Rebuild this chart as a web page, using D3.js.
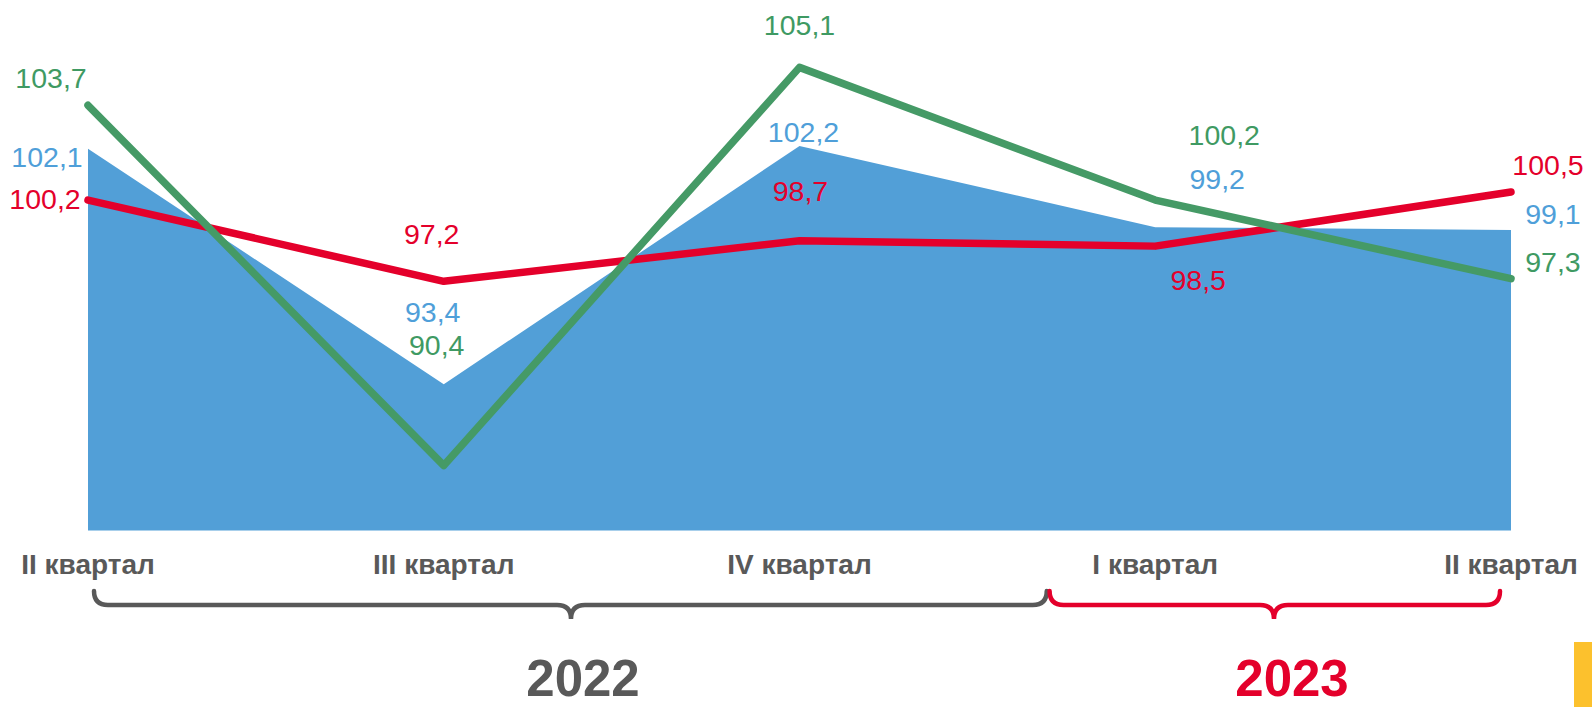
<!DOCTYPE html>
<html><head><meta charset="utf-8">
<script src="https://cdn.jsdelivr.net/npm/d3@7"></script>
<style>
html,body{margin:0;padding:0;background:#fff;}
svg{display:block;font-family:"Liberation Sans",Arial,sans-serif;}
</style></head>
<body>
<svg id="c" width="1592" height="707"></svg>
<script>
const categories = ["II квартал","III квартал","IV квартал","I квартал","II квартал"];
const blueValues  = [102.1, 93.4, 102.2, 99.2, 99.1];
const redValues   = [100.2, 97.2, 98.7, 98.5, 100.5];
const greenValues = [103.7, 90.4, 105.1, 100.2, 97.3];
const years = ["2022","2023"];
const yearSpans = [[0,3],[3,4]];

const fmt = v => d3.format(".1f")(v).replace(".", ",");

// label placement offsets (dx, dy from data point), text-anchor middle
const blueOff  = [[-41,18],[-11,-62],[4,-4],[62,-38],[42,-6]];
const redOff   = [[-43,8.5],[-12,-37],[1,-40],[43,44],[37,-17]];
const greenOff = [[-37,-17.6],[-7,-111],[0,-32],[69,-55],[42,-7]];

const svg = d3.select("#c");
const x = d3.scalePoint().domain(d3.range(categories.length)).range([88, 1511]);
const y = d3.scaleLinear().domain([88, 106]).range([530.5, 43]);

const BLUE = "#529fd7", RED = "#e4002b", GREEN = "#459a66", GRAY = "#595959";

// area
svg.append("path")
  .datum(blueValues)
  .attr("fill", BLUE)
  .attr("d", d3.area().x((d,i)=>x(i)).y0(y(88)).y1(d=>y(d)));

const line = d3.line().x((d,i)=>x(i)).y(d=>y(d));
svg.append("path").datum(redValues).attr("fill","none").attr("stroke",RED)
  .attr("stroke-width",7.5).attr("stroke-linecap","round").attr("stroke-linejoin","round")
  .attr("d", line);
svg.append("path").datum(greenValues).attr("fill","none").attr("stroke",GREEN)
  .attr("stroke-width",7.5).attr("stroke-linecap","round").attr("stroke-linejoin","round")
  .attr("d", line);

function labels(vals, offs, color){
  svg.append("g").selectAll("text").data(vals).join("text")
    .attr("x",(d,i)=>x(i)+offs[i][0])
    .attr("y",(d,i)=>y(d)+offs[i][1])
    .attr("text-anchor","middle")
    .attr("font-size",28.5)
    .attr("fill",color)
    .text(d=>fmt(d));
}
labels(blueValues, blueOff, "#4f9fd9");
labels(redValues, redOff, RED);
labels(greenValues, greenOff, "#3f9a63");

// category axis labels
svg.append("g").selectAll("text").data(categories).join("text")
  .attr("x",(d,i)=>x(i)).attr("y",574)
  .attr("text-anchor","middle").attr("font-size",28).attr("font-weight","bold")
  .attr("fill",GRAY).text(d=>d);

// braces
function brace(x1, x2, xm, color){
  const top = 591, mid = 605, tip = 619, r = 14;
  const p = d3.path();
  p.moveTo(x1, top);
  p.quadraticCurveTo(x1, mid, x1 + r, mid);
  p.lineTo(xm - r, mid);
  p.quadraticCurveTo(xm, mid, xm, tip);
  p.quadraticCurveTo(xm, mid, xm + r, mid);
  p.lineTo(x2 - r, mid);
  p.quadraticCurveTo(x2, mid, x2, top);
  svg.append("path").attr("d", p.toString()).attr("fill","none")
    .attr("stroke", color).attr("stroke-width",4.5).attr("stroke-linecap","round");
}
const step = x.step();
brace(x(yearSpans[0][0]) + 6, x(yearSpans[0][1]) - 0.305*step, 571, GRAY);
brace(x(yearSpans[1][0]) - 0.297*step, x(yearSpans[1][1]) - 11, 1274, RED);

// year labels
svg.append("text").attr("x",583).attr("y",696).attr("text-anchor","middle")
  .attr("font-size",51).attr("font-weight","bold").attr("fill",GRAY).text(years[0]);
svg.append("text").attr("x",1292).attr("y",696).attr("text-anchor","middle")
  .attr("font-size",51).attr("font-weight","bold").attr("fill",RED).text(years[1]);

// corner decoration
svg.append("rect").attr("x",1574).attr("y",642).attr("width",18).attr("height",65).attr("fill","#fcc12d");
</script>
</body></html>
